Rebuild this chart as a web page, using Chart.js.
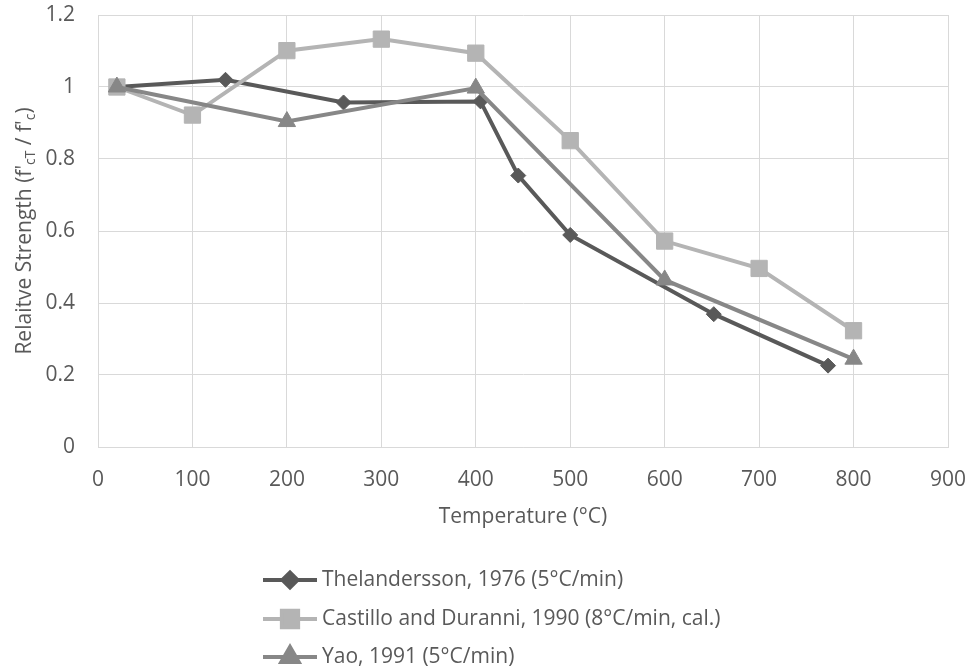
<!DOCTYPE html>
<html lang="en">
<head>
<meta charset="UTF-8">
<title>Relative Strength vs Temperature</title>
<script src="https://cdn.jsdelivr.net/npm/chart.js"></script>
<style>
  html, body { margin: 0; padding: 0; background: #fff; }
  #wrap { width: 971px; height: 672px; position: relative; }
</style>
</head>
<body>
<div id="wrap"><canvas id="chart"></canvas></div>
<script>
// data
const seriesNames = [
  'Thelandersson, 1976 (5°C/min)',
  'Castillo and Duranni, 1990 (8°C/min, cal.)',
  'Yao, 1991 (5°C/min)'
];
const theTemps  = [20, 135, 260, 405, 445, 500, 652, 773];
const theValues = [1.0, 1.02, 0.957, 0.96, 0.754, 0.589, 0.369, 0.226];
const casTemps  = [20, 100, 200, 300, 400, 500, 600, 700, 800];
const casValues = [1.0, 0.922, 1.101, 1.133, 1.094, 0.851, 0.572, 0.496, 0.323];
const yaoTemps  = [20, 200, 400, 600, 800];
const yaoValues = [1.0, 0.904, 0.997, 0.464, 0.244];
const xTicks = [0, 100, 200, 300, 400, 500, 600, 700, 800, 900];
const yTicks = [0, 0.2, 0.4, 0.6, 0.8, 1, 1.2];

const FONT = '"Open Sans", sans-serif';
const TEXT = '#595959';
const GRID = '#d9d9d9';

function pts(xs, ys) {
  return xs.map((x, i) => ({ x: x, y: ys[i] }));
}

// scales should not push the plot area in for their label overhang
function noOverhang(s) {
  s.paddingTop = 0;
  s.paddingBottom = 0;
  s.paddingLeft = 0;
  s.paddingRight = 0;
}

// legend stacked under the plot, one row per series
const stackLegend = {
  id: 'stackLegend',
  afterDraw(chart) {
    const ctx = chart.ctx;
    const rows = [580, 619, 657];
    ctx.save();
    chart.data.datasets.forEach((ds, i) => {
      const y = rows[i];
      ctx.strokeStyle = ds.borderColor;
      ctx.lineWidth = ds.borderWidth;
      ctx.beginPath();
      ctx.moveTo(263, y);
      ctx.lineTo(317, y);
      ctx.stroke();
      ctx.fillStyle = ds.pointBackgroundColor;
      ctx.strokeStyle = ds.pointBorderColor;
      Chart.helpers.drawPoint(ctx, {
        pointStyle: ds.pointStyle,
        radius: ds.pointRadius,
        rotation: 0,
        borderWidth: 1
      }, 290, y);
      ctx.fillStyle = TEXT;
      ctx.font = '21px ' + FONT;
      ctx.textBaseline = 'middle';
      ctx.textAlign = 'left';
      ctx.fillText(ds.label, 322, y);
    });
    ctx.restore();
  }
};

// y title with subscripts, drawn rotated
const yTitle = {
  id: 'yTitle',
  afterDraw(chart) {
    const ctx = chart.ctx;
    const area = chart.chartArea;
    const parts = [
      ["Relaitve Strength (f'", false],
      ['cT', true],
      [" / f'", false],
      ['c', true],
      [')', false]
    ];
    const big = '21px ' + FONT;
    const small = '14px ' + FONT;
    let total = 0;
    parts.forEach(p => {
      ctx.font = p[1] ? small : big;
      total += ctx.measureText(p[0]).width;
    });
    ctx.save();
    ctx.translate(25, (area.top + area.bottom) / 2);
    ctx.rotate(-Math.PI / 2);
    ctx.fillStyle = TEXT;
    ctx.textBaseline = 'middle';
    ctx.textAlign = 'left';
    let x = -total / 2;
    parts.forEach(p => {
      ctx.font = p[1] ? small : big;
      ctx.fillText(p[0], x, p[1] ? 6 : 0);
      x += ctx.measureText(p[0]).width;
    });
    ctx.restore();
  }
};

const marker = (color) => ({
  borderColor: color,
  backgroundColor: color,
  pointBackgroundColor: color,
  pointBorderColor: color,
  borderWidth: 4,
  pointBorderWidth: 1,
  tension: 0,
  fill: false
});

new Chart(document.getElementById('chart'), {
  type: 'scatter',
  data: {
    datasets: [
      Object.assign(marker('#595959'), {
        label: seriesNames[0],
        data: pts(theTemps, theValues),
        showLine: true,
        pointStyle: 'rectRot',
        pointRadius: 7.5,
        order: 3
      }),
      Object.assign(marker('#b4b4b4'), {
        label: seriesNames[1],
        data: pts(casTemps, casValues),
        showLine: true,
        pointStyle: 'rect',
        pointRadius: 11.5,
        order: 2
      }),
      Object.assign(marker('#878787'), {
        label: seriesNames[2],
        data: pts(yaoTemps, yaoValues),
        showLine: true,
        pointStyle: 'triangle',
        pointRadius: 10,
        order: 1
      })
    ]
  },
  options: {
    responsive: true,
    maintainAspectRatio: false,
    animation: false,
    layout: { padding: { top: 15, right: 23, left: 0, bottom: 0 } },
    plugins: {
      legend: { display: false },
      tooltip: { enabled: false }
    },
    scales: {
      x: {
        type: 'linear',
        min: 0,
        max: 900,
        afterBuildTicks: s => { s.ticks = xTicks.map(v => ({ value: v })); },
        afterFit: s => { s.height = 225; noOverhang(s); },
        grid: { color: GRID, lineWidth: 1, drawTicks: false },
        border: { color: GRID, width: 1 },
        ticks: { color: TEXT, font: { family: FONT, size: 21 }, padding: 20, maxRotation: 0 },
        title: {
          display: true,
          text: 'Temperature (°C)',
          color: TEXT,
          font: { family: FONT, size: 21 },
          padding: { top: 0, bottom: 142 }
        }
      },
      y: {
        type: 'linear',
        min: 0,
        max: 1.2,
        afterBuildTicks: s => { s.ticks = yTicks.map(v => ({ value: v })); },
        afterFit: s => { s.width = 98; noOverhang(s); },
        grid: { color: GRID, lineWidth: 1, drawTicks: false },
        border: { color: GRID, width: 1 },
        ticks: {
          color: TEXT,
          font: { family: FONT, size: 21 },
          padding: 23,
          callback: v => String(+v.toFixed(1))
        }
      }
    }
  },
  plugins: [stackLegend, yTitle]
});
</script>
</body>
</html>
